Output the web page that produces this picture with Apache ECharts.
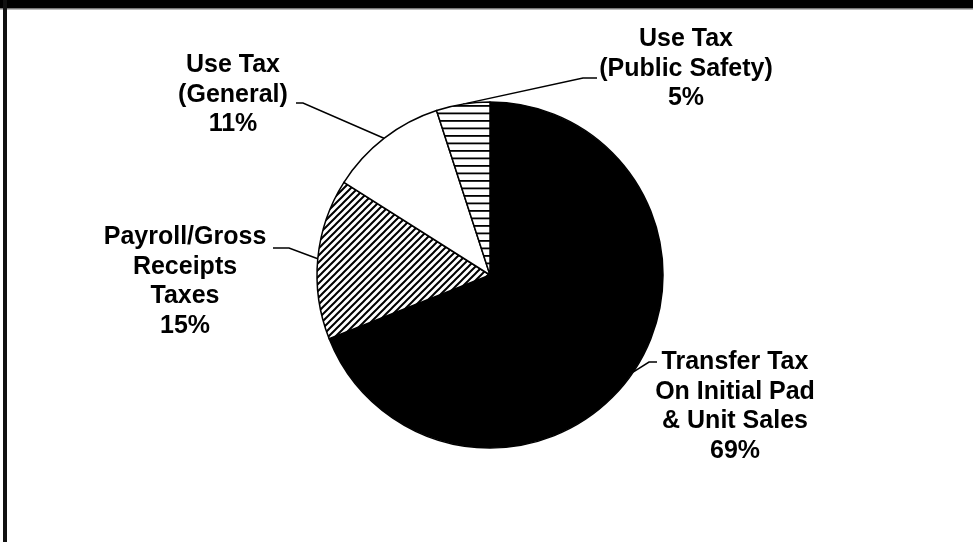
<!DOCTYPE html>
<html><head><meta charset="utf-8">
<script src="https://cdn.jsdelivr.net/npm/echarts@6/dist/echarts.min.js"></script>
<style>html,body{margin:0;padding:0;background:#fff}#c{width:973px;height:542px}</style>
</head><body><div id="c"></div>
<script>
// ---- data ----
const categories = [
  'Transfer Tax\nOn Initial Pad\n& Unit Sales',
  'Payroll/Gross\nReceipts\nTaxes',
  'Use Tax\n(General)',
  'Use Tax\n(Public Safety)'
];
const values = [69, 15, 11, 5];

// ---- fills ----
function hatchPattern() {
  const s = 7, c = document.createElement('canvas');
  c.width = s; c.height = s;
  const g = c.getContext('2d');
  g.fillStyle = '#fff'; g.fillRect(0, 0, s, s);
  g.strokeStyle = '#000'; g.lineWidth = 2;
  g.beginPath();
  g.moveTo(-1, s + 1); g.lineTo(s + 1, -1);
  g.moveTo(-1, 1); g.lineTo(1, -1);
  g.moveTo(s - 1, s + 1); g.lineTo(s + 1, s - 1);
  g.stroke();
  return c;
}
function stripePattern() {
  const c = document.createElement('canvas');
  c.width = 4; c.height = 15;
  const g = c.getContext('2d');
  g.fillStyle = '#fff'; g.fillRect(0, 0, 4, 15);
  g.fillStyle = '#000';
  g.fillRect(0, 0, 4, 1.8);
  g.fillRect(0, 7.5, 4, 1.8);
  return c;
}
const fills = [
  '#000',
  { image: hatchPattern(), repeat: 'repeat' },
  '#fff',
  { image: stripePattern(), repeat: 'repeat' }
];

// ---- layout ----
const CX = 490, CY = 275, R = 173;
const labelPlace = [
  { cx: 735, cy: 406.5, lineY: 362, elbowX: 649, endX: 657 },
  { cx: 185, cy: 281.5, lineY: 248, elbowX: 289, endX: 273 },
  { cx: 233, cy: 95,    lineY: 103, elbowX: 303, endX: 296 },
  { cx: 686, cy: 69,    lineY: 78,  elbowX: 583, endX: 597 }
];
const total = values.reduce((a, b) => a + b, 0);
function arcMid(i) {
  let cum = 0;
  for (let k = 0; k < i; k++) cum += values[k];
  const a = (90 - (cum + values[i] / 2) / total * 360) * Math.PI / 180;
  return [CX + R * Math.cos(a), CY - R * Math.sin(a)];
}

const chart = echarts.init(document.getElementById('c'), null, { renderer: 'canvas' });
chart.setOption({
  backgroundColor: '#fff',
  animation: false,
  graphic: [
    { type: 'rect', shape: { x: 0, y: 0, width: 973, height: 8 }, style: { fill: '#000' }, silent: true },
    { type: 'rect', shape: { x: 0, y: 8, width: 973, height: 1.5 }, style: { fill: '#777' }, silent: true },
    { type: 'rect', shape: { x: 3, y: 0, width: 4, height: 542 }, style: { fill: '#111' }, silent: true }
  ],
  series: [{
    type: 'pie',
    center: [CX, CY],
    radius: R,
    startAngle: 90,
    clockwise: true,
    avoidLabelOverlap: false,
    silent: true,
    emphasis: { disabled: true },
    itemStyle: { borderColor: '#000', borderWidth: 1.5 },
    data: values.map((v, i) => ({ name: categories[i], value: v, itemStyle: { color: fills[i] } })),
    label: {
      show: true,
      position: 'outside',
      formatter: p => p.name + '\n' + Math.round(p.percent) + '%',
      fontFamily: '"Liberation Sans", Arial, sans-serif',
      fontWeight: 'bold',
      fontSize: 25,
      lineHeight: 29.5,
      color: '#000',
      align: 'center'
    },
    labelLine: {
      show: true, length: 10, length2: 10, smooth: false,
      lineStyle: { color: '#000', width: 1.5 }
    },
    labelLayout: function (params) {
      const a = labelPlace[params.dataIndex];
      const p0 = (params.labelLinePoints && params.labelLinePoints[0]) || arcMid(params.dataIndex);
      return {
        x: a.cx, y: a.cy, align: 'center', verticalAlign: 'middle',
        labelLinePoints: [p0, [a.elbowX, a.lineY], [a.endX, a.lineY]]
      };
    }
  }]
});
</script>
</body></html>
